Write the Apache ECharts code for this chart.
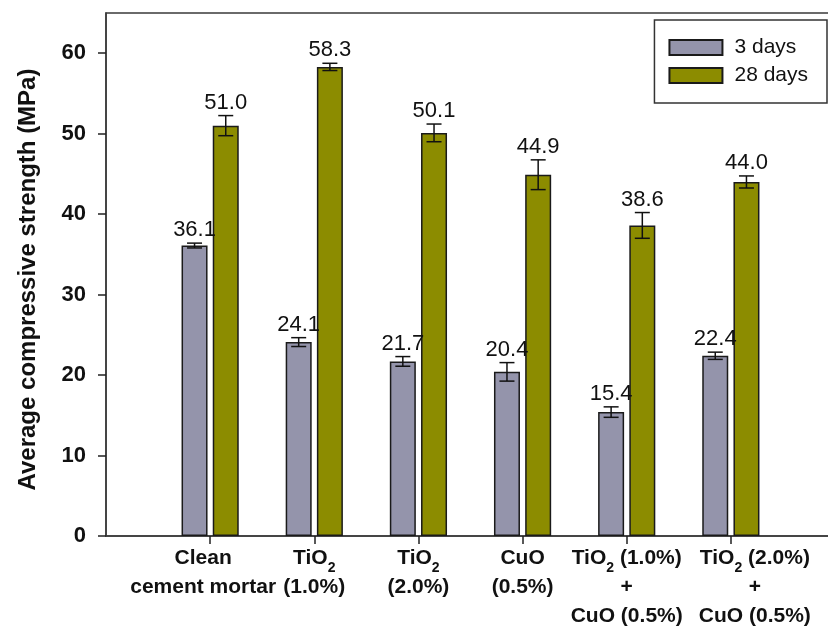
<!DOCTYPE html>
<html>
<head>
<meta charset="utf-8">
<script src="https://cdn.jsdelivr.net/npm/echarts@6/dist/echarts.min.js"></script>
<style>
  html, body { margin: 0; padding: 0; background: #ffffff; }
  #chart { width: 828px; height: 630px; }
</style>
</head>
<body>
<div id="chart"></div>
<script>
// Mix designs along the x axis (each entry = lines of the axis label)
const categories = [
  ['Clean', 'cement mortar'],
  ['TiO₂', '(1.0%)'],
  ['TiO₂', '(2.0%)'],
  ['CuO', '(0.5%)'],
  ['TiO₂ (1.0%)', '+', 'CuO (0.5%)'],
  ['TiO₂ (2.0%)', '+', 'CuO (0.5%)']
];
const seriesNames = ['3 days', '28 days'];

// Mean compressive strength (MPa) and error-bar half widths
const strength3d = [36.1, 24.1, 21.7, 20.4, 15.4, 22.4];
const err3d      = [0.3, 0.55, 0.6, 1.15, 0.65, 0.45];
const strength28d = [51.0, 58.3, 50.1, 44.9, 38.6, 44.0];
const err28d      = [1.25, 0.45, 1.1, 1.85, 1.6, 0.75];

const yTicks = [0, 10, 20, 30, 40, 50, 60];

const FONT = '"Liberation Sans", Arial, Helvetica, sans-serif';
const COLORS = ['#9494ab', '#8c8c00'];
const BAR_W = 26;
const BAR_GAP = 0.2;           // fraction of bar width
const SIDE = (BAR_W * (1 + BAR_GAP)) / 2;

// Horizontal nudges (px) for a few axis labels so neighbours do not collide
const LABEL_SHIFT = { 1: -7, 6: 24 };

// The x axis runs over slots 0..n+1; the groups sit on slots 1..n
const isGroupSlot = i => i >= 1 && i <= categories.length;
const slots = ['', ...categories.map(c => c.join(' ')), ''].map((name, i) => {
  const s = LABEL_SHIFT[i] || 0;
  if (!s) return name;
  const padding = s > 0 ? [0, 0, 0, 2 * s] : [0, -2 * s, 0, 0];
  return { value: name, textStyle: { padding: padding } };
});
const pad = arr => ['-', ...arr, '-'];

function richLine(line) {
  return line.split('₂').map(p => p ? '{b|' + p + '}' : '').join('{s|2}');
}
function labelFor(value, index) {
  if (!isGroupSlot(index)) return '';
  return categories[index - 1].map(richLine).join('\n');
}

function errorSeries(values, errs, side, name) {
  return {
    type: 'custom',
    name: name + ' error',
    z: 5,
    silent: true,
    data: values.map((v, i) => [i + 1, v, errs[i]]),
    encode: { x: 0, y: 1 },
    renderItem: function (params, api) {
      const x = api.value(0), v = api.value(1), e = api.value(2);
      const top = api.coord([x, v + e]);
      const bot = api.coord([x, v - e]);
      const cx = top[0] + side;
      const cap = 7.5;
      const ls = { stroke: '#111', lineWidth: 1.5 };
      return {
        type: 'group',
        children: [
          { type: 'line', shape: { x1: cx, y1: top[1], x2: cx, y2: bot[1] }, style: ls },
          { type: 'line', shape: { x1: cx - cap, y1: top[1], x2: cx + cap, y2: top[1] }, style: ls },
          { type: 'line', shape: { x1: cx - cap, y1: bot[1], x2: cx + cap, y2: bot[1] }, style: ls },
          {
            type: 'text',
            style: {
              text: v.toFixed(1),
              x: cx, y: top[1] - 2,
              align: 'center', verticalAlign: 'bottom',
              font: '22px ' + FONT,
              fill: '#111'
            }
          }
        ]
      };
    }
  };
}

const chart = echarts.init(document.getElementById('chart'), null, { renderer: 'canvas' });

chart.setOption({
  animation: false,
  backgroundColor: '#ffffff',
  grid: {
    left: 106, top: 13, right: -7, bottom: 94,
    outerBoundsMode: 'none',
    containLabel: false,
    show: true, borderColor: '#3a3a3a', borderWidth: 1.5, backgroundColor: 'transparent'
  },
  legend: {
    data: seriesNames,
    orient: 'vertical',
    right: 1, top: 20,
    padding: [17, 19, 17, 14],
    itemGap: 7,
    itemWidth: 53, itemHeight: 15,
    borderColor: '#333', borderWidth: 1.5,
    backgroundColor: '#fff',
    icon: 'rect',
    textStyle: { fontFamily: FONT, fontSize: 21, color: '#111', padding: [0, 0, 0, 7] }
  },
  xAxis: {
    type: 'category',
    data: slots,
    boundaryGap: false,
    splitLine: { show: false },
    axisLine: { show: true, lineStyle: { color: '#3a3a3a', width: 1.5 } },
    axisTick: {
      show: true, length: 8,
      interval: (index) => isGroupSlot(index),
      lineStyle: { color: '#222', width: 1.5 }
    },
    axisLabel: {
      interval: 0,
      hideOverlap: false,
      margin: 8,
      formatter: labelFor,
      rich: {
        b: { fontFamily: FONT, fontWeight: 'bold', fontSize: 21, lineHeight: 29, color: '#111' },
        s: { fontFamily: FONT, fontWeight: 'bold', fontSize: 14, lineHeight: 10, padding: [19, 0, 0, 0], color: '#111' }
      }
    }
  },
  yAxis: {
    type: 'value',
    min: 0, max: 65,
    name: 'Average compressive strength (MPa)',
    nameLocation: 'middle',
    nameGap: 66,
    nameTextStyle: { fontFamily: FONT, fontWeight: 'bold', fontSize: 24, color: '#111', padding: [0, 10, 0, 0] },
    splitLine: { show: false },
    axisLine: { show: true, lineStyle: { color: '#3a3a3a', width: 1.5 } },
    axisTick: { show: true, length: 8, customValues: yTicks, lineStyle: { color: '#222', width: 1.5 } },
    axisLabel: {
      customValues: yTicks,
      showMinLabel: true,
      margin: 20,
      fontFamily: FONT, fontWeight: 'bold', fontSize: 22, color: '#111'
    }
  },
  series: [
    {
      type: 'bar', name: seriesNames[0],
      data: pad(strength3d),
      barWidth: BAR_W, barGap: (BAR_GAP * 100) + '%',
      itemStyle: { color: COLORS[0], borderColor: '#1a1a1a', borderWidth: 1.5 }
    },
    {
      type: 'bar', name: seriesNames[1],
      data: pad(strength28d),
      barWidth: BAR_W, barGap: (BAR_GAP * 100) + '%',
      itemStyle: { color: COLORS[1], borderColor: '#1a1a1a', borderWidth: 1.5 }
    },
    errorSeries(strength3d, err3d, -SIDE, seriesNames[0]),
    errorSeries(strength28d, err28d, SIDE, seriesNames[1])
  ]
});
</script>
</body>
</html>
